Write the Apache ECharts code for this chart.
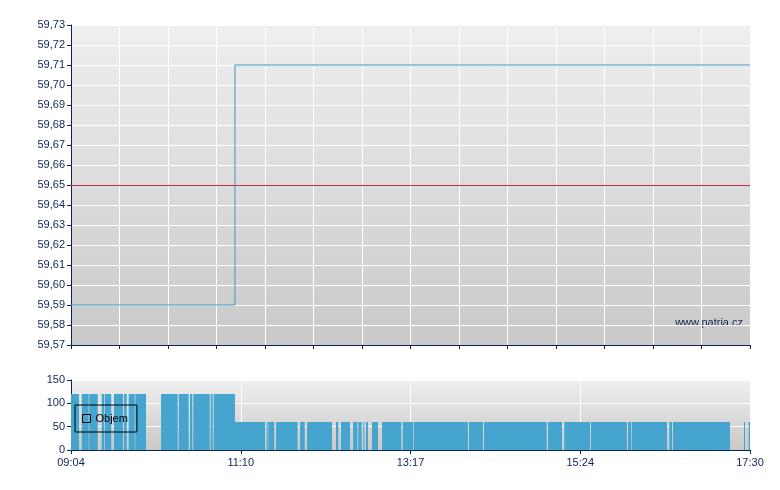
<!DOCTYPE html>
<html>
<head>
<meta charset="utf-8">
<script src="https://cdn.jsdelivr.net/npm/echarts@6/dist/echarts.min.js"></script>
<style>html,body{margin:0;padding:0;background:#fff;}#c{width:780px;height:490px;}</style>
</head>
<body>
<div id="c"></div>
<script>
// minutes counted from 09:04 (session 09:04 - 17:30 = 506 min)
const sessionMinutes = 506;
const timeLabels = ['09:04', '11:10', '13:17', '15:24', '17:30'];
const priceTicksMin = 59.57;
const priceTicksMax = 59.73;
// price step line [minute, price]
const priceLine = [[0, 59.59], [122.2, 59.71], [506, 59.71]];
const referencePrice = 59.65;
// volume blocks [startMinute, endMinute, volume]
const volumeBlocks = [
  [0, 6.0, 120], [8.0, 13.2, 120], [13.6, 19.9, 120], [22.9, 24.8, 120],
  [25.3, 30.0, 120], [32.0, 38.8, 120], [39.5, 41.5, 120], [43.0, 47.5, 120],
  [47.9, 55.9, 120], [67.1, 79.5, 120], [80.3, 87.7, 120], [88.7, 90.4, 120],
  [91.1, 103.4, 120], [104.1, 105.6, 120], [106.3, 122.2, 120],
  [122.2, 144.6, 60], [145.8, 146.6, 60], [147.0, 151.5, 60], [152.8, 168.9, 60],
  [170.7, 174.2, 60], [175.9, 194.5, 60], [197.5, 199.2, 60], [201.2, 207.9, 60],
  [210.2, 213.4, 60], [214.1, 216.6, 60], [217.8, 218.6, 60], [219.8, 221.3, 60],
  [224.3, 228.8, 60], [231.8, 246.1, 60], [247.2, 254.9, 60], [255.4, 295.8, 60],
  [296.6, 307.0, 60], [307.8, 354.5, 60], [355.5, 365.9, 60], [367.6, 386.8, 60],
  [387.5, 414.3, 60], [415.1, 417.3, 60], [417.8, 444.2, 60], [445.9, 447.9, 60],
  [448.6, 491.1, 60], [501.5, 502.3, 60], [505.0, 506, 60]
];

const navy = '#0a2658';
const labelColor = '#0e2352';
const font = 'Liberation Sans, Arial, sans-serif';
function bg() {
  return new echarts.graphic.LinearGradient(0, 0, 0, 1, [
    {offset: 0, color: '#efefef'}, {offset: 1, color: '#c9c9c9'}
  ]);
}

const chart = echarts.init(document.getElementById('c'), null, {renderer: 'canvas'});
chart.setOption({
  animation: false,
  backgroundColor: '#ffffff',
  grid: [
    {left: 71, top: 25, width: 679, height: 320, show: true, backgroundColor: bg(), borderWidth: 0},
    {left: 71, top: 380, width: 679, height: 70, show: true, backgroundColor: bg(), borderWidth: 0}
  ],
  legend: {
    data: [{name: 'Objem', icon: 'rect'}],
    left: 75, top: 405,
    padding: [8, 9, 8, 7],
    itemWidth: 8, itemHeight: 8, itemGap: 4,
    borderColor: '#000', borderWidth: 1,
    backgroundColor: 'transparent',
    itemStyle: {color: 'transparent', borderColor: '#000', borderWidth: 1},
    textStyle: {fontFamily: font, fontSize: 11, color: '#000', padding: [0, 0, 0, 0]}
  },
  xAxis: [
    {
      type: 'value', gridIndex: 0, min: 0, max: sessionMinutes, interval: sessionMinutes / 14,
      axisLine: {show: true, lineStyle: {color: navy, width: 1}},
      axisTick: {show: true, length: 4, lineStyle: {color: navy}},
      axisLabel: {show: false},
      splitLine: {show: true, lineStyle: {color: '#ffffff', width: 1}}
    },
    {
      type: 'value', gridIndex: 1, min: 0, max: sessionMinutes, interval: sessionMinutes / 4,
      axisLine: {show: true, lineStyle: {color: navy, width: 1}},
      axisTick: {show: true, length: 4, lineStyle: {color: navy}},
      axisLabel: {
        show: true, color: labelColor, fontFamily: font, fontSize: 11, margin: 7,
        formatter: v => timeLabels[Math.round(v / (sessionMinutes / 4))] || ''
      },
      splitLine: {show: true, lineStyle: {color: '#ffffff', width: 1}}
    }
  ],
  yAxis: [
    {
      type: 'value', gridIndex: 0, min: priceTicksMin, max: priceTicksMax, interval: 0.01,
      axisLine: {show: true, lineStyle: {color: navy, width: 1}},
      axisTick: {show: true, length: 4, lineStyle: {color: navy}},
      axisLabel: {
        color: labelColor, fontFamily: font, fontSize: 11, margin: 6,
        formatter: v => v.toFixed(2).replace('.', ',')
      },
      splitLine: {show: true, lineStyle: {color: '#ffffff', width: 1}}
    },
    {
      type: 'value', gridIndex: 1, min: 0, max: 150, interval: 50,
      axisLine: {show: true, lineStyle: {color: navy, width: 1}},
      axisTick: {show: true, length: 4, lineStyle: {color: navy}},
      axisLabel: {color: labelColor, fontFamily: font, fontSize: 11, margin: 6},
      splitLine: {show: true, lineStyle: {color: '#ffffff', width: 1}}
    }
  ],
  graphic: [{
    type: 'text', right: 37, top: 317,
    style: {text: 'www.patria.cz', fill: labelColor, font: '11px ' + font}
  }],
  series: [
    {
      type: 'line', name: 'Cena', xAxisIndex: 0, yAxisIndex: 0,
      data: priceLine, step: 'end', showSymbol: false, symbol: 'none',
      lineStyle: {color: '#3f97c4', width: 1},
      markLine: {
        silent: true, symbol: 'none', label: {show: false},
        lineStyle: {color: '#c8323c', width: 1, type: 'solid'},
        data: [{yAxis: referencePrice}]
      }
    },
    {
      type: 'custom', name: 'Objem', xAxisIndex: 1, yAxisIndex: 1,
      data: volumeBlocks,
      encode: {x: [0, 1], y: 2},
      itemStyle: {color: 'transparent', borderColor: '#000'},
      renderItem: function (params, api) {
        const p0 = api.coord([api.value(0), api.value(2)]);
        const p1 = api.coord([api.value(1), 0]);
        return {
          type: 'rect',
          shape: {x: p0[0], y: p0[1], width: Math.max(p1[0] - p0[0], 0.8), height: p1[1] - p0[1]},
          style: {fill: '#46a5ce'}
        };
      }
    }
  ]
});
</script>
</body>
</html>
